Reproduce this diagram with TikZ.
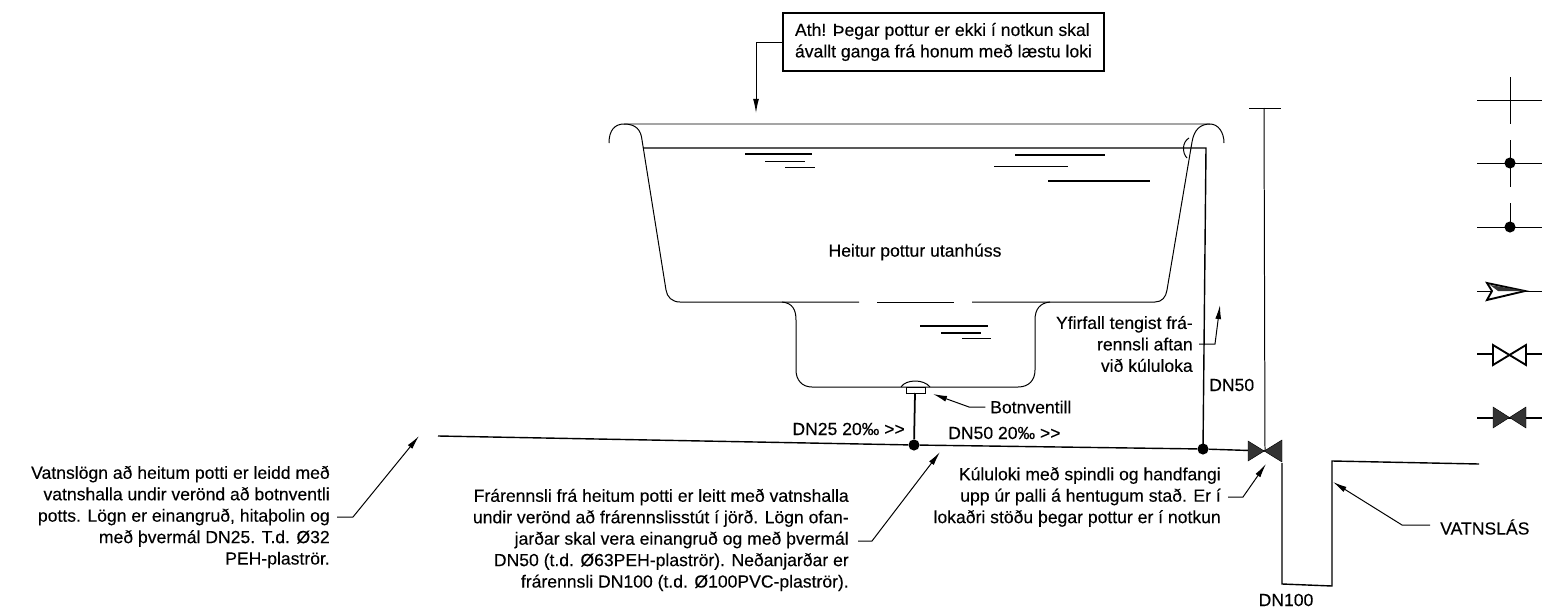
\documentclass[tikz,border=0pt]{standalone}
\usepackage{fontspec}
\setmainfont{Liberation Sans}[FakeBold=0.2]
\usetikzlibrary{arrows}
\usetikzlibrary{arrows.meta}
\tikzset{
  lbl/.style={inner sep=0pt, font=\fontsize{15}{18.3}\selectfont},
  lblr/.style={lbl, anchor=east, align=right},
  thin line/.style={line width=0.85pt},
  pipe/.style={line width=1.2pt},
  leader/.style={line width=0.85pt, -{Latex[length=12pt,width=5pt]}},
  junction/.style={circle, fill=black, inner sep=0pt, minimum size=9.5pt},
}
\begin{document}
\begin{tikzpicture}[x=0.03cm, y=-0.03cm]
        \useasboundingbox (0,0) rectangle (1556,615);
        %
        \node [lbl, draw, line width=2pt, minimum width=9.63cm, minimum height=1.74cm, align=left, inner xsep=8pt] (note) at (943.5,42) {Ath! Þegar pottur er ekki í notkun skal\\ávallt ganga frá honum með læstu loki};
        \coordinate (notetip) at (756,113);
        \draw [leader] (note.west) -| (notetip);
        %
        \draw [thin line] (609,143) .. controls (609,130) and (615,124) .. (624,124) -- (1210,124) .. controls (1218,124) and (1224,132) .. (1224,143);
        \draw [thin line] (624,124) .. controls (636,124) and (641,130) .. (642,140) -- (666,290) .. controls (667,297) and (672,302) .. (680,302) -- (859,302);
        \draw [thin line] (877,302) -- (954,302);
        \draw [thin line] (972,302) -- (1155,302) .. controls (1162,302) and (1166,297) .. (1167,290) -- (1192,142) .. controls (1194,130) and (1200,124) .. (1210,124);
        \draw [thin line] (1050,302) .. controls (1040,303) and (1035,309) .. (1035,320) -- (1035,370) .. controls (1035,380) and (1029,387) .. (1018,387) -- (812,387) .. controls (802,387) and (796,380) .. (796,370) -- (796,320) .. controls (796,309) and (792,303) .. (782,302);
        \draw [thin line] (1189,138) .. controls (1182,142) and (1182,153) .. (1187,158);
        %
        \draw [pipe] (643,148) -- (1206,148) -- (1203,449);
        \draw [pipe] (745,154) -- (812,154);
        \draw [thin line] (765,161) -- (805,161);
        \draw [thin line] (785,167) -- (815,167);
        \draw [pipe] (1015,155) -- (1105,155);
        \draw [thin line] (994,166) -- (1068,166);
        \draw [pipe] (1048,181) -- (1150,181);
        \draw [pipe] (920,326) -- (988,326);
        \draw [pipe] (941,333) -- (981,333);
        \draw [thin line] (962,338) -- (991,338);
        %
        \node [lbl] (pot) at (915,252) {Heitur pottur utanhúss};
        \node [lblr] (over) at (1193,344) {Yfirfall tengist frá-\\rennsli aftan\\við kúluloka};
        \coordinate (overtip) at (1220,305);
        \draw [leader] (1199,344) -- (1215,344) -- (overtip);
        \node [lbl, anchor=west] (dnfifty) at (1209,385) {DN50};
        %
        % botnventill
        \draw [thin line] (901,387) .. controls (906,379) and (924,379) .. (930,387);
        \draw [thin line] (906,387) rectangle (925,393);
        \node [junction] (tee) at (914,445) {};
        \draw [line width=1.5pt] (915,393) -- (tee);
        \node [lbl, anchor=west] (valve) at (990,407) {Botnventill};
        \coordinate (valvetip) at (933,394);
        \draw [leader] ([xshift=-4pt]valve.west) -- (969,407) -- (valvetip);
        %
        \node [lbl, anchor=east] (slopeA) at (905,429) {DN25 20‰ >{}>};
        \node [lbl, anchor=west] (slopeB) at (948,433) {DN50 20‰ >{}>};
        %
        \coordinate (mainstart) at (438,436);
        \node [junction] (overtee) at (1203,449) {};
        \coordinate (ball) at (1265,451);
        \draw [pipe] (mainstart) -- (tee) -- (overtee) -- (ball);
        \draw [thin line] (1264,108) -- (ball);
        \draw [thin line] (1249,108) -- (1281,108);
        \draw [fill=black!80] (1248,441) -- (1282,462) -- (1282,440) -- (1248,461) -- cycle;
        %
        \draw [pipe] (1282,463) -- (1282,584) -- (1332,586) -- (1332,461) -- (1479,464);
        %
        \node [lblr] (water) at (330,517) {Vatnslögn að heitum potti er leidd með\\vatnshalla undir verönd að botnventli\\potts. Lögn er einangruð, hitaþolin og\\með þvermál DN25. T.d. Ø32\\PEH-plaströr.};
        \coordinate (watertip) at (419,436);
        \draw [leader] (337,517) -- (353,517) -- (watertip);
        %
        \node [lblr] (drain) at (849,540) {Frárennsli frá heitum potti er leitt með vatnshalla\\undir verönd að frárennslisstút í jörð. Lögn ofan-\\jarðar skal vera einangruð og með þvermál\\DN50 (t.d. Ø63PEH-plaströr). Neðanjarðar er\\frárennsli DN100 (t.d. Ø100PVC-plaströr).};
        \coordinate (draintip) at (940,452);
        \draw [leader] (858,541) -- (872,541) -- (draintip);
        %
        \node [lblr] (ballnote) at (1221,497) {Kúluloki með spindli og handfangi\\upp úr palli á hentugum stað. Er í\\lokaðri stöðu þegar pottur er í notkun};
        \coordinate (balltip) at (1266,464);
        \draw [leader] (1228,497) -- (1243,497) -- (balltip);
        %
        \node [lbl, anchor=west] (trap) at (1440,527) {VATNSLÁS};
        \coordinate (traptip) at (1333,482);
        \draw [leader] (1430,525) -- (1402,525) -- (traptip);
        \node [lbl] (dnhundred) at (1286,600) {DN100};
        %
        % symbols
        \draw [thin line] (1477,100) -- (1542,100);
        \draw [thin line] (1510,77) -- (1510,124);
        \draw [thin line] (1477,163) -- (1542,163);
        \draw [thin line] (1510,140) -- (1510,187);
        \node [junction] (symA) at (1510,163) {};
        \draw [thin line] (1477,227) -- (1542,227);
        \draw [thin line] (1510,203) -- (1510,227);
        \node [junction] (symB) at (1510,227) {};
        \draw [thin line] (1477,291) -- (1542,291);
        \draw [line width=1.6pt, fill=white] (1525,291) -- (1487,283) -- (1492,291) -- (1487,300) -- cycle;
        \fill [black!80] (1525,291) -- (1490,285) -- (1498,291) -- cycle;
        \draw [pipe] (1477,354) -- (1493,354);
        \draw [pipe] (1526,354) -- (1542,354);
        \draw [line width=1.6pt, fill=white] (1493,345) -- (1526,365) -- (1526,345) -- (1493,365) -- cycle;
        \draw [pipe] (1477,418) -- (1542,418);
        \draw [fill=black!80] (1493,407) -- (1526,428) -- (1526,407) -- (1493,428) -- cycle;
      \end{tikzpicture}
\end{document}
